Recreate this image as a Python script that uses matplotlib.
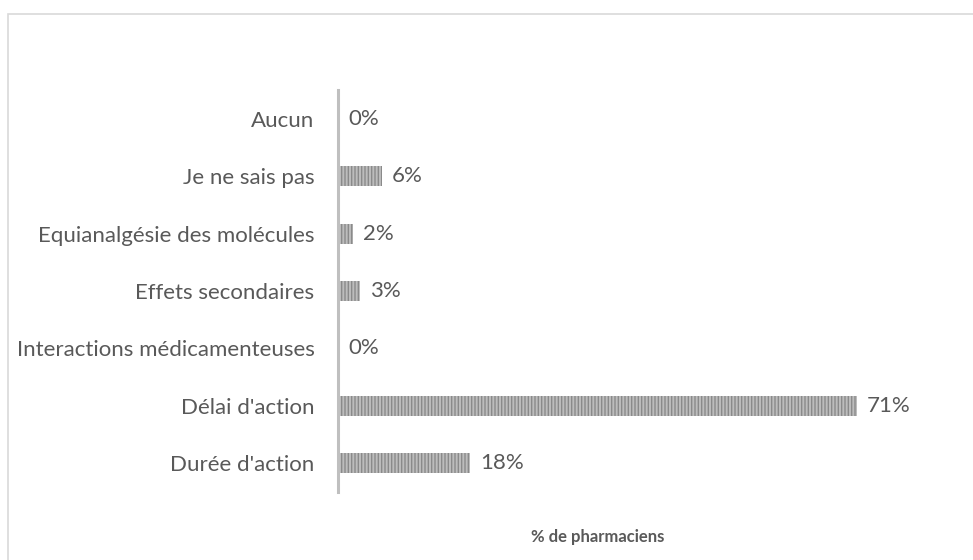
import matplotlib.pyplot as plt
from matplotlib.patches import Rectangle

categories = ["Durée d'action", "Délai d'action", "Interactions médicamenteuses",
              "Effets secondaires", "Equianalgésie des molécules", "Je ne sais pas", "Aucun"]
values = [18, 71, 0, 3, 2, 6, 0]
xlabel = "% de pharmaciens"

plt.rcParams['font.family'] = ['Lato', 'DejaVu Sans']
plt.rcParams['hatch.linewidth'] = 1.0
txt = '#595959'

fig = plt.figure(figsize=(9.73, 5.6), dpi=100)
# outer chart frame (right/bottom are off-canvas in the reference)
fig.patches.append(Rectangle((8 / 973, -0.1), 1.2, (560 - 14) / 560 + 0.1,
                             transform=fig.transFigure, fill=False,
                             edgecolor='#d9d9d9', linewidth=1.2))

ax = fig.add_axes([338 / 973, 68 / 560, (857 - 338) / 973, 402 / 560])
y = range(len(categories))
ax.barh(y, values, height=0.35, color='#bdbdbd', edgecolor='#8a8a8a',
        hatch='|||||', linewidth=0)
for i, v in zip(y, values):
    ax.text(v + 1.4, i, f"{v}%", va='center', ha='left', fontsize=16,
            color=txt, clip_on=False)

ax.set_xlim(0, 71)
ax.set_ylim(-0.5, len(categories) - 0.5)
ax.set_yticks(list(y))
ax.set_yticklabels(categories, fontsize=16, color=txt)
ax.tick_params(axis='y', length=0, pad=17)
ax.set_xticks([])
for s in ['top', 'right', 'bottom']:
    ax.spines[s].set_visible(False)
ax.spines['left'].set_color('#bfbfbf')
ax.spines['left'].set_linewidth(2.2)

fig.text((338 + 857) / 2 / 973, 1 - 537 / 560, xlabel, ha='center', va='center',
         fontsize=12, fontweight='bold', color=txt)

fig.savefig('out.png', dpi=100)
